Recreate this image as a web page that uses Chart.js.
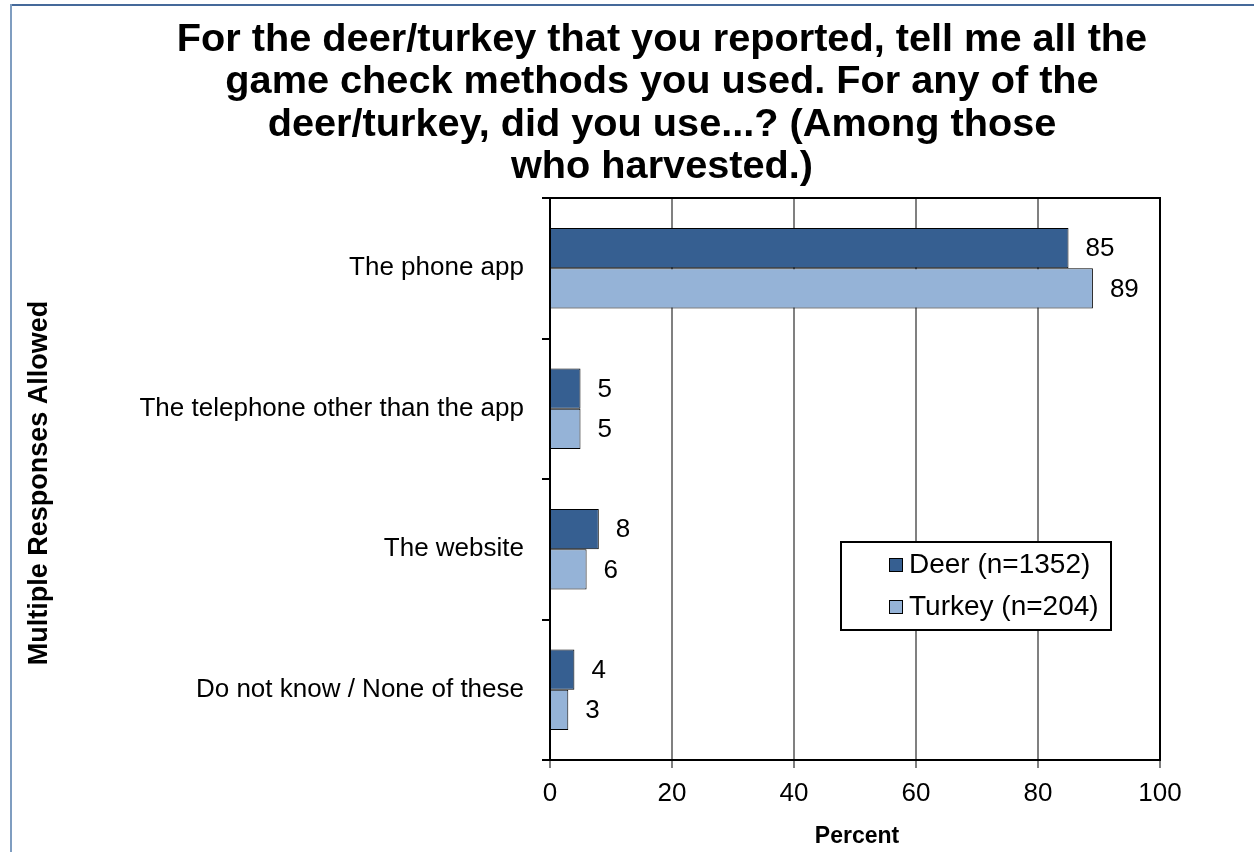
<!DOCTYPE html>
<html>
<head>
<meta charset="utf-8">
<script src="https://cdn.jsdelivr.net/npm/chart.js@4.4.1/dist/chart.umd.min.js"></script>
<style>
  html, body { margin: 0; padding: 0; background: #ffffff; }
  #wrap { width: 1254px; height: 852px; position: relative; }
</style>
</head>
<body>
<div id="wrap"><canvas id="chart" width="1254" height="852"></canvas></div>
<script>
// Game check methods used, among those who harvested (percent, multiple responses allowed)
const categories = [
  'The phone app',
  'The telephone other than the app',
  'The website',
  'Do not know / None of these'
];
const deerValues = [85, 5, 8, 4];
const turkeyValues = [89, 5, 6, 3];
const seriesLabels = ['Deer (n=1352)', 'Turkey (n=204)'];
const xTickValues = [0, 20, 40, 60, 80, 100];

const titleLines = [
  'For the deer/turkey that you reported, tell me all the',
  'game check methods you used. For any of the',
  'deer/turkey, did you use...? (Among those',
  'who harvested.)'
];
const xAxisTitle = 'Percent';
const yAxisTitle = 'Multiple Responses Allowed';

const FONT = '"Liberation Sans", Arial, Helvetica, sans-serif';
const DEER_COLOR = '#365F91';
const TURKEY_COLOR = '#95B3D7';

// Page frame, title and axis titles
const decorPlugin = {
  id: 'decor',
  beforeDraw(chart) {
    const ctx = chart.ctx;
    ctx.save();
    ctx.fillStyle = '#ffffff';
    ctx.fillRect(0, 0, chart.width, chart.height);
    ctx.lineWidth = 2;
    ctx.strokeStyle = '#45699A';
    ctx.beginPath(); ctx.moveTo(10, 5); ctx.lineTo(chart.width, 5); ctx.stroke();
    ctx.strokeStyle = '#7F9DC0';
    ctx.beginPath(); ctx.moveTo(11, 4); ctx.lineTo(11, chart.height); ctx.stroke();
    ctx.restore();
  },
  afterDraw(chart) {
    const ctx = chart.ctx;
    const area = chart.chartArea;
    ctx.save();
    ctx.fillStyle = '#000000';
    ctx.textAlign = 'center';
    ctx.textBaseline = 'alphabetic';
    ctx.font = 'bold 39.7px ' + FONT;
    titleLines.forEach((line, i) => ctx.fillText(line, 662, 51 + i * 42.3));

    ctx.font = 'bold 23px ' + FONT;
    ctx.textBaseline = 'middle';
    ctx.fillText(xAxisTitle, (area.left + area.right) / 2 + 2, 837);

    ctx.font = 'bold 27px ' + FONT;
    ctx.translate(40, (area.top + area.bottom) / 2 + 4);
    ctx.rotate(-Math.PI / 2);
    ctx.fillText(yAxisTitle, 0, 0);
    ctx.restore();
  }
};

// Plot-area frame, value labels and the boxed legend
const overlayPlugin = {
  id: 'overlay',
  afterDatasetsDraw(chart) {
    const ctx = chart.ctx;
    const area = chart.chartArea;
    ctx.save();
    ctx.strokeStyle = '#000000';
    ctx.lineWidth = 2;
    ctx.strokeRect(area.left, area.top, area.right - area.left, area.bottom - area.top);

    ctx.fillStyle = '#000000';
    ctx.font = '26px ' + FONT;
    ctx.textAlign = 'left';
    ctx.textBaseline = 'middle';
    chart.data.datasets.forEach((ds, di) => {
      const meta = chart.getDatasetMeta(di);
      meta.data.forEach((bar, i) => {
        ctx.fillText(String(ds.data[i]), bar.x + 17, bar.y + 1);
      });
    });

    // Legend box
    const lx = area.left + 291, ly = area.top + 344, lw = 270, lh = 88;
    ctx.fillStyle = '#ffffff';
    ctx.fillRect(lx, ly, lw, lh);
    ctx.lineWidth = 2;
    ctx.strokeStyle = '#000000';
    ctx.strokeRect(lx, ly, lw, lh);
    ctx.font = '28px ' + FONT;
    chart.data.datasets.forEach((ds, di) => {
      const cy = ly + 23 + di * 42;
      ctx.fillStyle = ds.backgroundColor;
      ctx.fillRect(lx + 48, cy - 7, 14, 14);
      ctx.lineWidth = 1;
      ctx.strokeStyle = '#000000';
      ctx.strokeRect(lx + 48.5, cy - 6.5, 13, 13);
      ctx.fillStyle = '#000000';
      ctx.fillText(ds.label, lx + 68, cy);
    });
    ctx.restore();
  }
};

new Chart(document.getElementById('chart'), {
  type: 'bar',
  data: {
    labels: categories,
    datasets: [
      {
        label: seriesLabels[0],
        data: deerValues,
        backgroundColor: DEER_COLOR,
        borderColor: '#000000',
        borderWidth: 1
      },
      {
        label: seriesLabels[1],
        data: turkeyValues,
        backgroundColor: TURKEY_COLOR,
        borderColor: '#000000',
        borderWidth: 1
      }
    ]
  },
  options: {
    indexAxis: 'y',
    responsive: false,
    devicePixelRatio: 1,
    animation: false,
    layout: { padding: { top: 198, right: 94, left: 0, bottom: 0 } },
    datasets: { bar: { categoryPercentage: 0.572, barPercentage: 1.0 } },
    plugins: {
      legend: { display: false },
      title: { display: false },
      tooltip: { enabled: false }
    },
    scales: {
      x: {
        type: 'linear',
        min: 0,
        max: 100,
        afterBuildTicks(scale) {
          scale.ticks = xTickValues.map(v => ({ value: v }));
        },
        afterFit(scale) { scale.height = 92; },
        grid: {
          color: '#808080',
          lineWidth: 2,
          tickLength: 8,
          tickColor: '#808080',
          drawOnChartArea: true
        },
        border: { display: true, color: '#000000', width: 2 },
        ticks: {
          color: '#000000',
          padding: 10,
          font: { family: FONT, size: 26 }
        }
      },
      y: {
        type: 'category',
        afterFit(scale) { scale.width = 550; },
        grid: {
          offset: true,
          drawOnChartArea: false,
          tickLength: 8,
          tickColor: '#000000',
          lineWidth: 2
        },
        border: { display: true, color: '#000000', width: 2 },
        ticks: {
          color: '#000000',
          padding: 18,
          font: { family: FONT, size: 26 }
        }
      }
    }
  },
  plugins: [decorPlugin, overlayPlugin]
});
</script>
</body>
</html>
